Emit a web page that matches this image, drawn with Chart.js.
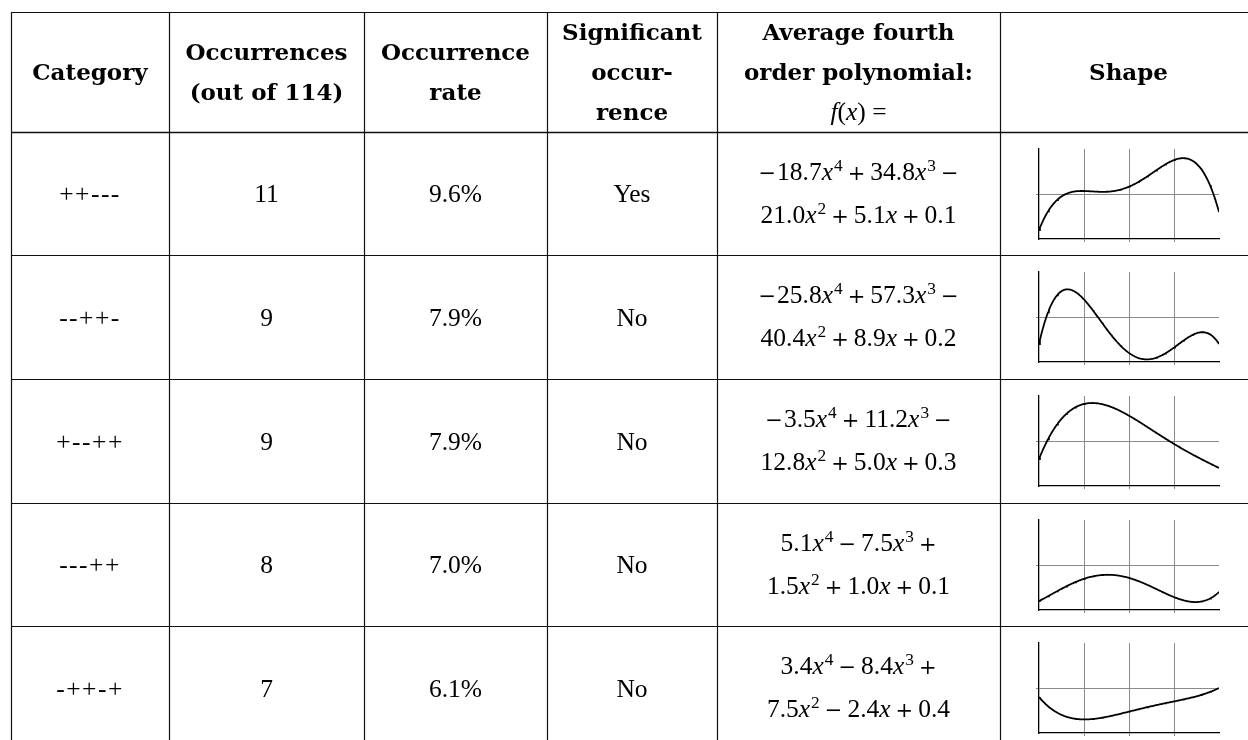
<!DOCTYPE html>
<html>
<head>
<meta charset="utf-8">
<script src="https://cdn.jsdelivr.net/npm/chart.js@4.4.1/dist/chart.umd.min.js"></script>
<style>
  html, body { margin: 0; padding: 0; background: #fff; }
  #page { position: relative; width: 1248px; height: 740px; overflow: hidden; background: #fff; }
  #lines { position: absolute; left: 0; top: 0; }
  .cell { position: absolute; display: flex; flex-direction: column; align-items: center; justify-content: center; text-align: center; color: #000; }
  .hd { font-family: 'DejaVu Serif', serif; font-weight: bold; font-size: 23px; line-height: 40px; }
  .bd { font-family: 'Liberation Serif', serif; font-size: 25.5px; line-height: 41px; }
  .bd .ln { white-space: nowrap; }
  .mi { font-style: italic; }
  .hd .m { font-family: 'Liberation Serif', serif; font-weight: normal; font-size: 25.5px; }
  sup { font-size: 68%; line-height: 0; vertical-align: 0.5em; margin-left: 1px; }
  .op { font-family: 'DejaVu Serif', serif; font-size: 21px; margin: 0 5px; }
  .op.lead { margin: 0 1px 0 0; }
  .op.tail { margin: 0 0 0 5px; }
  canvas.spark { position: absolute; }
</style>
</head>
<body>
<div id="page">
  <canvas id="lines" width="1248" height="740"></canvas>
</div>
<script>
// Table content
const categories   = ['++---', '--++-', '+--++', '---++', '-++-+'];
const occurrences  = [11, 9, 9, 8, 7];
const rates        = ['9.6%', '7.9%', '7.9%', '7.0%', '6.1%'];
const significant  = ['Yes', 'No', 'No', 'No', 'No'];

// Average fourth order polynomial coefficients, f(x) = a4 x^4 + a3 x^3 + a2 x^2 + a1 x + a0
const coefX4 = [-18.7, -25.8, -3.5,  5.1,  3.4];
const coefX3 = [ 34.8,  57.3, 11.2, -7.5, -8.4];
const coefX2 = [-21.0, -40.4, -12.8, 1.5,  7.5];
const coefX1 = [  5.1,   8.9,  5.0,  1.0, -2.4];
const coefX0 = [  0.1,   0.2,  0.3,  0.1,  0.4];

// Shape plot axes
const xTicks = [0, 0.25, 0.5, 0.75, 1];
const yTicks = [0, 0.5, 1];

// Layout of the grid
const colX = [11, 169, 364, 547, 717, 1000, 1257];
const rowY = [12, 132, 255, 379, 503, 626, 750];

const page = document.getElementById('page');

// ---- rules of the table ----
const lc = document.getElementById('lines').getContext('2d');
lc.strokeStyle = '#111';
lc.lineWidth = 1.2;
colX.forEach(x => {
  lc.beginPath(); lc.moveTo(x + 0.5, rowY[0]); lc.lineTo(x + 0.5, 740); lc.stroke();
});
rowY.forEach((y, i) => {
  lc.beginPath(); lc.moveTo(colX[0], y + 0.5); lc.lineTo(1248, y + 0.5);
  lc.lineWidth = i === 1 ? 1.5 : 1.2;
  lc.stroke();
});

function cell(col, row, cls, html) {
  const d = document.createElement('div');
  d.className = 'cell ' + cls;
  d.style.left = colX[col] + 'px';
  d.style.width = (colX[col + 1] - colX[col]) + 'px';
  d.style.top = rowY[row] + 'px';
  d.style.height = (rowY[row + 1] - rowY[row]) + 'px';
  d.innerHTML = html;
  page.appendChild(d);
  return d;
}

// ---- header ----
const headers = [
  ['Category'],
  ['Occurrences', '(out of 114)'],
  ['Occurrence', 'rate'],
  ['Significant', 'occur-', 'rence'],
  ['Average fourth', 'order polynomial:', '<span class="m"><span class="mi">f</span>(<span class="mi">x</span>) =</span>'],
  ['Shape']
];
headers.forEach((lines, c) => {
  cell(c, 0, 'hd', lines.map(l => '<div>' + l + '</div>').join(''));
});

// ---- polynomial text built from the coefficients ----
const MINUS = '\u2212';
function num(v) { return Math.abs(v).toFixed(1); }
function op(v, kind) { return '<span class="op ' + (kind || '') + '">' + (v < 0 ? MINUS : '+') + '</span>'; }
function term(v, p) {
  const x = p === 0 ? '' : '<span class="mi">x</span>' + (p > 1 ? '<sup>' + p + '</sup>' : '');
  return num(v) + x;
}
function polyLines(i) {
  const a4 = coefX4[i], a3 = coefX3[i], a2 = coefX2[i], a1 = coefX1[i], a0 = coefX0[i];
  const l1 = (a4 < 0 ? op(a4, 'lead') : '') + term(a4, 4) +
             op(a3) + term(a3, 3) + op(a2, 'tail');
  const l2 = term(a2, 2) + op(a1) + term(a1, 1) + op(a0) + term(a0, 0);
  return '<div class="ln">' + l1 + '</div><div class="ln">' + l2 + '</div>';
}

// ---- body rows ----
const sampleX = [];
for (let k = 0; k <= 200; k++) sampleX.push(k / 200);

categories.forEach((cat, i) => {
  const r = i + 1;
  cell(0, r, 'bd', '<div style="letter-spacing:1.5px">' + cat + '</div>');
  cell(1, r, 'bd', '<div>' + occurrences[i] + '</div>');
  cell(2, r, 'bd', '<div>' + rates[i] + '</div>');
  cell(3, r, 'bd', '<div>' + significant[i] + '</div>');
  cell(4, r, 'bd', polyLines(i));

  // shape plot
  const cv = document.createElement('canvas');
  cv.className = 'spark';
  const top = rowY[r] + 14;
  cv.style.left = '1036px';
  cv.style.top = top + 'px';
  cv.width = 186; cv.height = 96;
  cv.style.width = '186px'; cv.style.height = '96px';
  page.appendChild(cv);

  const pts = sampleX.map(x => ({
    x: x,
    y: (((coefX4[i] * x + coefX3[i]) * x + coefX2[i]) * x + coefX1[i]) * x + coefX0[i]
  }));

  new Chart(cv.getContext('2d'), {
    type: 'line',
    data: {
      datasets: [{
        data: pts,
        borderColor: '#000',
        borderWidth: 1.8,
        pointRadius: 0,
        tension: 0,
        fill: false
      }]
    },
    options: {
      responsive: false,
      animation: false,
      events: [],
      layout: { padding: { top: 3, right: 3, left: 0, bottom: 0 } },
      plugins: { legend: { display: false }, tooltip: { enabled: false } },
      scales: {
        x: {
          type: 'linear', min: 0, max: 1,
          afterBuildTicks: s => { s.ticks = xTicks.map(v => ({ value: v })); },
          ticks: { display: false },
          grid: {
            color: c => (c.tick && (c.tick.value === 0 || c.tick.value === 1)) ? 'rgba(0,0,0,0)' : '#8a8a8a',
            lineWidth: 1,
            drawTicks: true,
            tickLength: 3
          },
          border: { display: true, color: '#000', width: 1.3 }
        },
        y: {
          type: 'linear', min: 0, max: 1,
          afterBuildTicks: s => { s.ticks = yTicks.map(v => ({ value: v })); },
          ticks: { display: false },
          grid: {
            color: c => (c.tick && c.tick.value === 0.5) ? '#8a8a8a' : 'rgba(0,0,0,0)',
            lineWidth: 1,
            drawTicks: true,
            tickLength: 3
          },
          border: { display: true, color: '#000', width: 1.3 }
        }
      }
    }
  });
});
</script>
</body>
</html>
